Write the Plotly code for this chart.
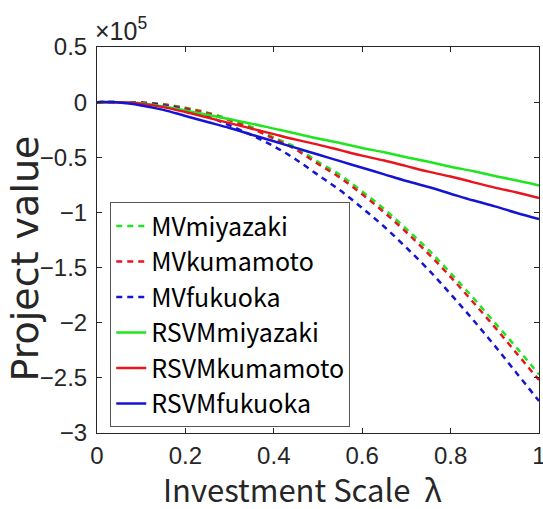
import plotly.graph_objects as go

# Investment scale lambda
lam = [0.0, 0.05, 0.1, 0.15, 0.2, 0.25, 0.3, 0.35, 0.4, 0.45, 0.5,
       0.55, 0.6, 0.65, 0.7, 0.75, 0.8, 0.85, 0.9, 0.95, 1.0]

# Project values in units of 1e5
mv_miyazaki = [0, 0, -0.003, -0.02, -0.05, -0.095, -0.155, -0.225, -0.32, -0.41, -0.54,
               -0.66, -0.81, -0.97, -1.15, -1.34, -1.55, -1.77, -2.00, -2.23, -2.47]
mv_kumamoto = [0, 0, -0.004, -0.022, -0.055, -0.10, -0.165, -0.24, -0.33, -0.43, -0.56,
               -0.685, -0.835, -1.0, -1.18, -1.375, -1.585, -1.81, -2.04, -2.28, -2.52]
mv_fukuoka = [0, 0, -0.005, -0.03, -0.07, -0.13, -0.21, -0.30, -0.40, -0.52, -0.66,
              -0.80, -0.96, -1.13, -1.32, -1.52, -1.74, -1.97, -2.21, -2.46, -2.71]
rsvm_miyazaki = [0, -0.001, -0.01, -0.04, -0.075, -0.115, -0.155, -0.195, -0.24, -0.285, -0.33,
                 -0.37, -0.415, -0.455, -0.50, -0.54, -0.585, -0.625, -0.67, -0.71, -0.755]
rsvm_kumamoto = [0, -0.002, -0.015, -0.045, -0.09, -0.14, -0.19, -0.24, -0.29, -0.34, -0.385,
                 -0.435, -0.485, -0.53, -0.58, -0.63, -0.675, -0.725, -0.775, -0.82, -0.87]
rsvm_fukuoka = [0, -0.004, -0.03, -0.07, -0.125, -0.18, -0.235, -0.295, -0.355, -0.415, -0.475,
                -0.535, -0.595, -0.655, -0.715, -0.77, -0.83, -0.89, -0.945, -1.005, -1.06]

y_ticks = [0.5, 0, -0.5, -1, -1.5, -2, -2.5, -3]
y_tick_text = ["0.5", "0", "\u22120.5", "\u22121", "\u22121.5", "\u22122", "\u22122.5", "\u22123"]
x_ticks = [0, 0.2, 0.4, 0.6, 0.8, 1]
x_tick_text = ["0", "0.2", "0.4", "0.6", "0.8", "1"]

GREEN = "#1ee61e"
RED = "#e8141e"
BLUE = "#1414d2"

series = [
    ("MVmiyazaki", mv_miyazaki, GREEN, "6px,5px"),
    ("MVkumamoto", mv_kumamoto, RED, "6px,5px"),
    ("MVfukuoka", mv_fukuoka, BLUE, "6px,5px"),
    ("RSVMmiyazaki", rsvm_miyazaki, GREEN, "solid"),
    ("RSVMkumamoto", rsvm_kumamoto, RED, "solid"),
    ("RSVMfukuoka", rsvm_fukuoka, BLUE, "solid"),
]

fig = go.Figure()
for name, vals, col, dash in series:
    fig.add_trace(go.Scatter(x=lam, y=vals, mode="lines", name=name,
                             line=dict(color=col, width=2.5, dash=dash, shape="spline")))

tickfont = dict(family="Liberation Sans, Arial", size=24, color="#262626")
fig.update_xaxes(range=[0, 1], tickvals=x_ticks, ticktext=x_tick_text,
                 ticks="inside", ticklen=5, tickcolor="#262626", mirror="ticks",
                 showline=True, linecolor="#262626", linewidth=1, showgrid=False,
                 zeroline=False, tickfont=tickfont, ticklabelstandoff=1,
                 ticklabeloverflow="allow", automargin=False)
fig.update_yaxes(range=[-3, 0.5], tickvals=y_ticks, ticktext=y_tick_text,
                 ticks="inside", ticklen=5, tickcolor="#262626", mirror="ticks",
                 showline=True, linecolor="#262626", linewidth=1, showgrid=False,
                 zeroline=False, tickfont=tickfont, ticklabelstandoff=4,
                 ticklabeloverflow="allow", automargin=False)

# axis titles
fig.add_annotation(x=0.465, y=-0.145, xref="paper", yref="paper", xanchor="center", yanchor="middle",
                   text="Investment Scale  \u03bb", showarrow=False,
                   font=dict(family="Noto Sans CJK JP", size=31, color="#262626"))
fig.add_annotation(x=-0.163, y=0.452, xref="paper", yref="paper", xanchor="center", yanchor="middle",
                   text="Project value", showarrow=False, textangle=-90,
                   font=dict(family="DejaVu Sans", size=38, color="#262626"))
fig.add_annotation(x=0, y=1, xref="paper", yref="paper", xanchor="left", yanchor="bottom",
                   text="\u00d710<sup>5</sup>", showarrow=False, xshift=-4,
                   font=dict(family="Liberation Sans, Arial", size=25, color="#262626"))

fig.update_layout(
    width=543, height=509,
    margin=dict(l=97, r=4, t=47, b=76, autoexpand=False),
    plot_bgcolor="white", paper_bgcolor="white",
    legend=dict(x=0.03, y=0.598, xanchor="left", yanchor="top",
                bgcolor="white", bordercolor="#555555", borderwidth=1,
                font=dict(family="Noto Sans CJK JP", size=25, color="black"),
                itemwidth=30, tracegroupgap=0),
    showlegend=True,
)

fig.write_html("out.html", config={"displayModeBar": False},
               post_script="document.body.style.margin='0';")
